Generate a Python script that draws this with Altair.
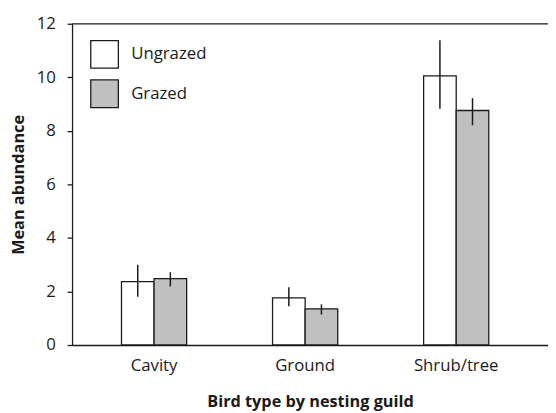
import altair as alt
import pandas as pd

categories = ["Cavity", "Ground", "Shrub/tree"]
groups = ["Ungrazed", "Grazed"]
ungrazed_mean = [2.37, 1.76, 10.05]
ungrazed_lo = [1.80, 1.45, 8.83]
ungrazed_hi = [3.00, 2.16, 11.38]
grazed_mean = [2.48, 1.35, 8.76]
grazed_lo = [2.19, 1.14, 8.21]
grazed_hi = [2.72, 1.52, 9.22]
y_ticks = [0, 2, 4, 6, 8, 10, 12]

rows = []
for i, c in enumerate(categories):
    rows.append({"cat": c, "grp": "Ungrazed", "mean": ungrazed_mean[i], "lo": ungrazed_lo[i], "hi": ungrazed_hi[i]})
    rows.append({"cat": c, "grp": "Grazed", "mean": grazed_mean[i], "lo": grazed_lo[i], "hi": grazed_hi[i]})
df = pd.DataFrame(rows)

FONT = "Open Sans"
W, H = 483, 326

xenc = alt.X("cat:N", sort=categories,
             scale=alt.Scale(paddingInner=0.5686, paddingOuter=0.3595, align=0.455),
             axis=alt.Axis(title="Bird type by nesting guild", labelAngle=0, ticks=False,
                           labelPadding=13, titlePadding=20, labelFontSize=17,
                           titleFontSize=16.5, titleFontWeight="bold"))
xoff = alt.XOffset("grp:N", sort=groups, scale=alt.Scale(domain=groups, paddingInner=0, paddingOuter=0))

bars = alt.Chart(df).mark_bar(stroke="#1a1a1a", strokeWidth=1.3).encode(
    x=xenc,
    xOffset=xoff,
    y=alt.Y("mean:Q", scale=alt.Scale(domain=[0, 12], nice=False),
            axis=alt.Axis(title="Mean abundance", values=y_ticks, tickSize=5,
                          labelPadding=12, titlePadding=10, labelFontSize=17,
                          titleFontSize=16.5, titleFontWeight="bold", grid=False)),
    fill=alt.Fill("grp:N", scale=alt.Scale(domain=groups, range=["#ffffff", "#c0c0c0"]),
                  legend=alt.Legend(title=None, orient="none", legendX=18, legendY=16,
                                    symbolType="square", symbolSize=784,
                                    symbolStrokeColor="#1a1a1a", symbolStrokeWidth=1.3,
                                    symbolOpacity=1, labelFontSize=17, labelOffset=12,
                                    rowPadding=6, padding=0)),
)

err = alt.Chart(df).mark_rule(color="#1a1a1a", strokeWidth=1.5).encode(
    x=alt.X("cat:N", sort=categories),
    xOffset=alt.XOffset("grp:N", sort=groups),
    y="lo:Q",
    y2="hi:Q",
)

top = alt.Chart(pd.DataFrame({"v": [12]})).mark_rule(color="#1a1a1a", strokeWidth=1.3).encode(
    y=alt.Y("v:Q"),
    x=alt.value(0),
    x2=alt.value(W),
)

chart = alt.layer(bars, err, top).properties(
    width=W, height=H,
    autosize=alt.AutoSizeParams(type="none"),
    padding={"left": 65, "top": 13, "right": 0, "bottom": 66},
).configure_view(stroke=None).configure_axis(
    domainColor="#1a1a1a", domainWidth=1.3, tickColor="#1a1a1a", tickWidth=1.3,
    labelColor="#1a1a1a", titleColor="#1a1a1a", labelFont=FONT, titleFont=FONT,
).configure_legend(labelFont=FONT, labelColor="#1a1a1a")

chart.save("out.html", embed_options={"renderer": "svg", "actions": False})
